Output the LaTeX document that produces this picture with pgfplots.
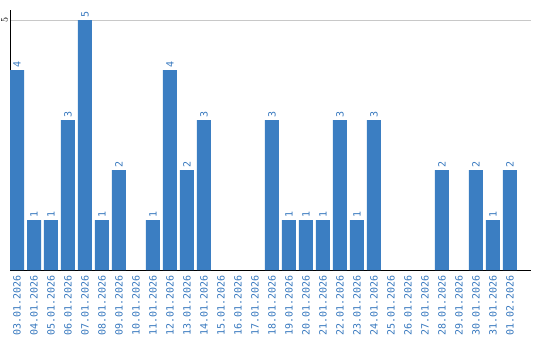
\documentclass[border=0pt]{standalone}
\usepackage{pgfplots}
\pgfplotsset{compat=1.18}
\usepackage{pgfplotstable}
\usepackage{fontspec}
\setmonofont{DejaVu Sans Mono}
\definecolor{barblue}{RGB}{59,126,194}
\definecolor{labblue}{RGB}{55,120,190}
\definecolor{gridgray}{RGB}{200,200,200}
\pgfplotstableread{
x v
0 4
1 1
2 1
3 3
4 5
5 1
6 2
8 1
9 4
10 2
11 3
15 3
16 1
17 1
18 1
19 3
20 1
21 3
25 2
27 2
28 1
29 2
}\data
\begin{document}
\begin{tikzpicture}
\begin{axis}[
  at={(0,0)}, anchor=south west,
  scale only axis,
  width=521bp, height=260bp,
  xmin=-0.412, xmax=30.24,
  ymin=0, ymax=5.2,
  axis x line=bottom, axis y line=left,
  axis line style={black, line width=1bp, -},
  ybar, bar width=14bp,
  xtick={0,...,29},
  xticklabels={03.01.2026,04.01.2026,05.01.2026,06.01.2026,07.01.2026,08.01.2026,09.01.2026,10.01.2026,11.01.2026,12.01.2026,13.01.2026,14.01.2026,15.01.2026,16.01.2026,17.01.2026,18.01.2026,19.01.2026,20.01.2026,21.01.2026,22.01.2026,23.01.2026,24.01.2026,25.01.2026,26.01.2026,27.01.2026,28.01.2026,29.01.2026,30.01.2026,31.01.2026,01.02.2026},
  ytick={5},
  major tick length=0pt,
  ymajorgrids,
  grid style={gridgray, line width=1bp},
  xticklabel shift=5bp,
  yticklabel shift=2bp,
  xticklabel style={rotate=90, anchor=east, inner sep=0pt, text=labblue, font=\ttfamily\fontsize{10bp}{12bp}\selectfont},
  yticklabel style={rotate=90, anchor=south, inner sep=0pt, text=black, font=\ttfamily\fontsize{9.5bp}{12bp}\selectfont},
  nodes near coords,
  nodes near coords style={rotate=90, anchor=west, inner sep=0pt, xshift=2bp, text=labblue, font=\ttfamily\fontsize{10bp}{12bp}\selectfont},
  point meta=explicit symbolic,
]
\addplot[fill=barblue, draw=none] table[x=x, y=v, meta=v] {\data};
\end{axis}
\pgfresetboundingbox
\useasboundingbox (-10bp,-70bp) rectangle (530bp,270bp);
\end{tikzpicture}
\end{document}
